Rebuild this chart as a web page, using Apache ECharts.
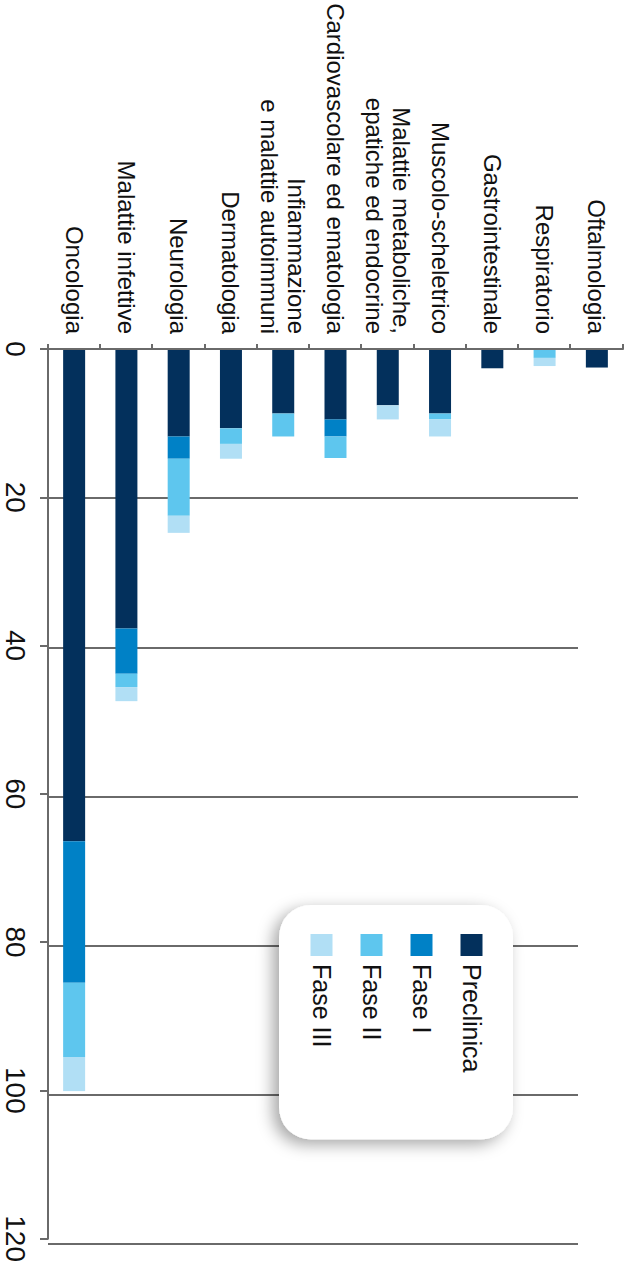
<!DOCTYPE html>
<html>
<head>
<meta charset="utf-8">
<script src="https://cdn.jsdelivr.net/npm/echarts@6/dist/echarts.min.js"></script>
<style>
html, body { margin: 0; padding: 0; background: #ffffff; overflow: hidden; width: 633px; height: 1265px; }
#chart { position: absolute; left: 0; top: 0; width: 1265px; height: 633px;
  transform-origin: 0 0; transform: translate(633px, 0) rotate(90deg); }
</style>
</head>
<body>
<div id="chart"></div>
<script>
// Categories (first = closest to the value axis)
const categories = [
  'Oncologia',
  'Malattie infettive',
  'Neurologia',
  'Dermatologia',
  'Infiammazione\ne malattie autoimmuni',
  'Cardiovascolare ed ematologia',
  'Malattie metaboliche,\nepatiche ed endocrine',
  'Muscolo-scheletrico',
  'Gastrointestinale',
  'Respiratorio',
  'Oftalmologia'
];
const seriesNames = ['Preclinica', 'Fase I', 'Fase II', 'Fase III'];
const preclinica = [66.4, 37.7, 11.8, 10.7, 8.7, 9.5, 7.6, 8.7, 2.6, 0, 2.5];
const faseI      = [19.1, 6.1, 3.0, 0, 0, 2.3, 0, 0, 0, 0, 0];
const faseII     = [10.0, 1.8, 7.7, 2.1, 3.1, 2.9, 0, 0.8, 0, 1.2, 0];
const faseIII    = [4.6, 1.9, 2.3, 2.0, 0, 0, 1.9, 2.3, 0, 1.1, 0];
const valueTicks = [0, 20, 40, 60, 80, 100, 120];

const colors = ['#03305c', '#0081c6', '#5ec6ee', '#b1dff5'];
const seriesData = [preclinica, faseI, faseII, faseIII];
const FONT = "'Liberation Sans', Arial, sans-serif";
const AXIS_COLOR = '#6a6a6a';

const chart = echarts.init(document.getElementById('chart'), null, { renderer: 'svg', width: 1265, height: 633 });
chart.setOption({
  animation: false,
  backgroundColor: '#ffffff',
  textStyle: { fontFamily: FONT, color: '#111111' },
  grid: [
    { left: 349, right: 21, top: 10, bottom: 48, containLabel: false },
    { left: 349, right: 21, top: 55, bottom: 48, containLabel: false }
  ],
  legend: {
    data: seriesNames,
    orient: 'vertical',
    left: 905, top: 120,
    padding: [29, 67, 30, 29],
    itemWidth: 22, itemHeight: 22, itemGap: 25,
    icon: 'rect',
    selectedMode: false,
    backgroundColor: '#ffffff',
    borderRadius: 32,
    shadowBlur: 16,
    shadowColor: 'rgba(0,0,0,0.35)',
    shadowOffsetX: 5,
    shadowOffsetY: 6,
    textStyle: { fontFamily: FONT, fontSize: 25, color: '#111111', lineHeight: 22, padding: [0, 0, 0, 3] }
  },
  xAxis: [
    {
      gridIndex: 0, type: 'value', min: valueTicks[0], max: valueTicks[valueTicks.length - 1], interval: 20,
      axisLine: { show: true, lineStyle: { color: AXIS_COLOR, width: 2 } },
      axisTick: { show: true, length: 8, lineStyle: { color: AXIS_COLOR, width: 2 } },
      axisLabel: { show: true, margin: 19, fontSize: 28, fontFamily: FONT, color: '#111111' },
      splitLine: { show: false }
    },
    {
      gridIndex: 1, type: 'value', min: valueTicks[0], max: valueTicks[valueTicks.length - 1], interval: 20,
      axisLine: { show: false }, axisTick: { show: false }, axisLabel: { show: false },
      splitLine: { show: true, lineStyle: { color: AXIS_COLOR, width: 2 } }
    }
  ],
  yAxis: [
    {
      gridIndex: 0, type: 'category', data: categories,
      axisLine: { show: true, lineStyle: { color: AXIS_COLOR, width: 2 } },
      axisTick: { show: true, length: 5, lineStyle: { color: AXIS_COLOR, width: 2 } },
      axisLabel: { margin: 15, fontSize: 24, lineHeight: 27, fontFamily: FONT, color: '#111111', align: 'right' },
      z: 5
    },
    {
      gridIndex: 1, type: 'category', data: categories, show: false
    }
  ],
  series: seriesNames.map((name, i) => ({
    name: name,
    type: 'bar',
    stack: 'total',
    xAxisIndex: 0, yAxisIndex: 0,
    barWidth: 22,
    data: seriesData[i],
    itemStyle: { color: colors[i] },
    emphasis: { disabled: true },
    z: 3
  }))
});
</script>
</body>
</html>
